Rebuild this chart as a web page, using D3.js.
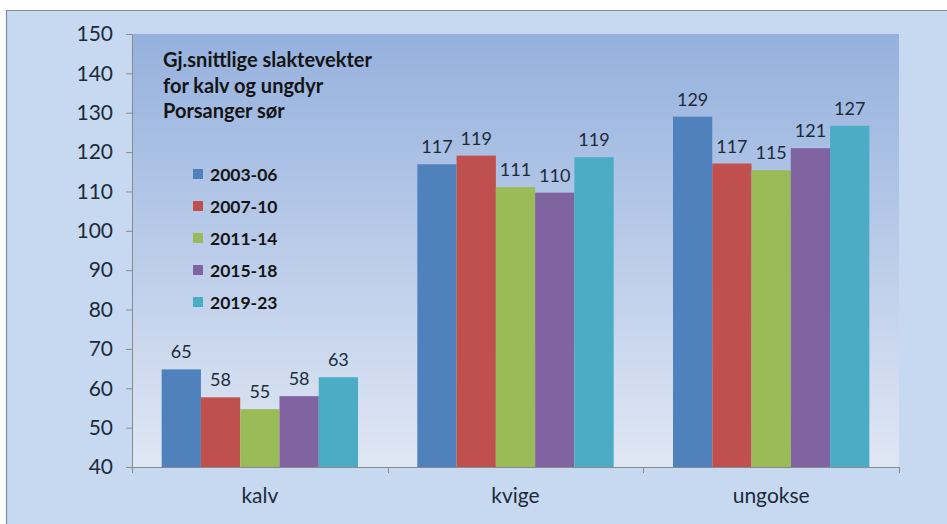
<!DOCTYPE html>
<html>
<head>
<meta charset="utf-8">
<script src="https://cdn.jsdelivr.net/npm/d3@7.9.0/dist/d3.min.js"></script>
<style>
  html, body { margin: 0; padding: 0; background: #fff; overflow: hidden; }
  svg { display: block; font-family: Lato, "Open Sans", sans-serif; }
</style>
</head>
<body>
<svg id="chart" width="947" height="524"></svg>
<script>
// data
const categories = ['kalv', 'kvige', 'ungokse'];
const periods = ['2003-06', '2007-10', '2011-14', '2015-18', '2019-23'];
const kalv = [64.8, 57.7, 54.7, 58.0, 62.8];
const kvige = [116.9, 119.1, 111.1, 109.7, 118.7];
const ungokse = [129.0, 117.1, 115.4, 121.0, 126.7];
const yTicks = [40, 50, 60, 70, 80, 90, 100, 110, 120, 130, 140, 150];
const titleLines = ['Gj.snittlige slaktevekter', 'for kalv og ungdyr', 'Porsanger sør'];
const colors = ['#4f81bd', '#c0504d', '#9bbb59', '#8064a2', '#4bacc6'];

const values = [kalv, kvige, ungokse];

const svg = d3.select('#chart');
const plot = { left: 132, right: 899, top: 34, bottom: 467 };

const defs = svg.append('defs');
const grad = defs.append('linearGradient')
  .attr('id', 'plotGrad').attr('x1', 0).attr('y1', 0).attr('x2', 0).attr('y2', 1);
grad.append('stop').attr('offset', '0%').attr('stop-color', '#95b1de');
grad.append('stop').attr('offset', '100%').attr('stop-color', '#e0e7f4');

// outer chart background, frame only on top and left (rest is cut off)
svg.append('rect')
  .attr('x', 6).attr('y', 10).attr('width', 941).attr('height', 514)
  .attr('fill', '#c6d9f1');
svg.append('path')
  .attr('d', 'M6.5,524V10.5H947')
  .attr('fill', 'none').attr('stroke', '#7f8fa3').attr('stroke-width', 1.2);

svg.append('rect')
  .attr('x', plot.left).attr('y', plot.top)
  .attr('width', plot.right - plot.left).attr('height', plot.bottom - plot.top)
  .attr('fill', 'url(#plotGrad)');

const x = d3.scaleBand().domain(categories).range([plot.left, plot.right]).paddingInner(0).paddingOuter(0);
const y = d3.scaleLinear().domain([40, 150]).range([plot.bottom, plot.top]);

const groupWidth = x.bandwidth() * 0.768;
const xs = d3.scaleBand().domain(periods).range([0, groupWidth]).padding(0);

// bars
categories.forEach((cat, ci) => {
  const g = svg.append('g')
    .attr('transform', `translate(${x(cat) + (x.bandwidth() - groupWidth) / 2},0)`);
  g.selectAll('rect')
    .data(values[ci])
    .join('rect')
    .attr('x', (d, i) => xs(periods[i]))
    .attr('width', xs.bandwidth())
    .attr('y', d => y(d))
    .attr('height', d => y(40) - y(d))
    .attr('fill', (d, i) => colors[i]);
  g.selectAll('text')
    .data(values[ci])
    .join('text')
    .attr('x', (d, i) => xs(periods[i]) + xs.bandwidth() / 2)
    .attr('y', d => y(d) - 11)
    .attr('text-anchor', 'middle')
    .attr('font-size', 18)
    .attr('fill', '#1c2a3a')
    .text(d => Math.round(d));
});

// y axis
const yAxis = svg.append('g')
  .attr('transform', `translate(${plot.left},0)`)
  .call(d3.axisLeft(y).tickValues(yTicks).tickSize(6).tickPadding(13).tickSizeOuter(0));
yAxis.select('.domain').attr('stroke', '#8a8a8a');
yAxis.selectAll('.tick line').attr('stroke', '#8a8a8a');
yAxis.selectAll('.tick text')
  .attr('font-size', 21).attr('fill', '#1c2a3a').attr('font-family', 'Lato, sans-serif');

// x axis
const xAxis = svg.append('g')
  .attr('transform', `translate(0,${plot.bottom})`)
  .call(d3.axisBottom(x).tickSize(0).tickPadding(21));
xAxis.select('.domain').attr('stroke', '#8a8a8a');
xAxis.selectAll('.tick text')
  .attr('font-size', 21).attr('fill', '#1c2a3a').attr('font-family', 'Lato, sans-serif');
// category divider ticks
const bounds = [plot.left, ...categories.map(c => x(c) + x.bandwidth())];
svg.append('g').selectAll('line')
  .data(bounds)
  .join('line')
  .attr('x1', d => Math.round(d) + 0.5).attr('x2', d => Math.round(d) + 0.5)
  .attr('y1', plot.bottom).attr('y2', plot.bottom + 6)
  .attr('stroke', '#8a8a8a');

// title
svg.append('g').selectAll('text')
  .data(titleLines)
  .join('text')
  .attr('x', 163)
  .attr('y', (d, i) => 67 + i * 25.5)
  .attr('font-size', 20)
  .attr('font-weight', 'bold')
  .attr('fill', '#141414')
  .text(d => d);

// legend
const legend = svg.append('g');
periods.forEach((p, i) => {
  const cy = 174 + i * 32;
  legend.append('rect')
    .attr('x', 193).attr('y', cy - 5).attr('width', 10).attr('height', 10)
    .attr('fill', colors[i]);
  legend.append('text')
    .attr('x', 210).attr('y', cy + 6.5)
    .attr('font-size', 17.5).attr('font-weight', 'bold').attr('fill', '#141414')
    .text(p);
});
</script>
</body>
</html>
